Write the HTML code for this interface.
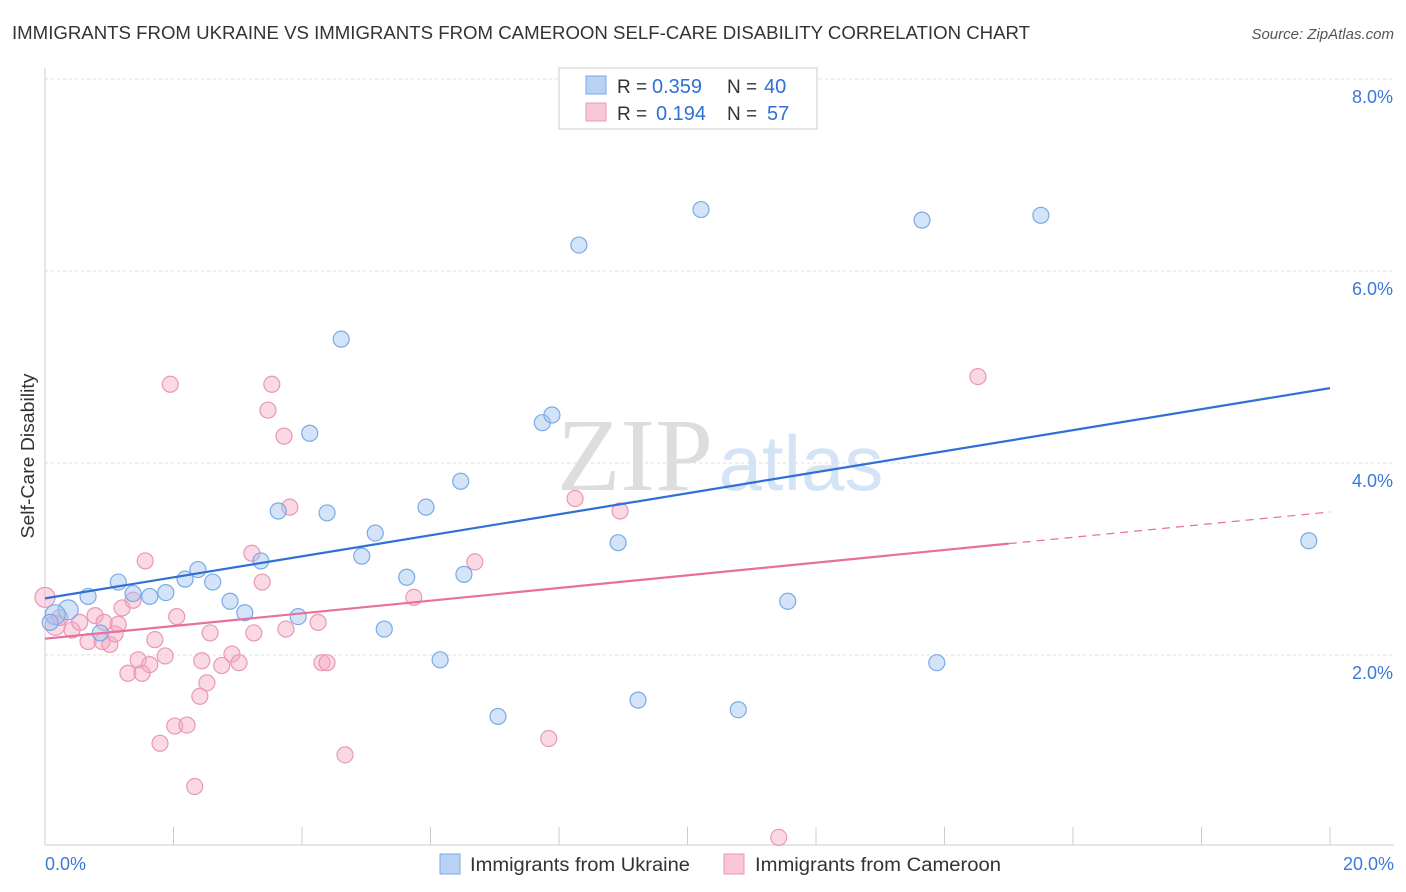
<!DOCTYPE html>
<html><head><meta charset="utf-8"><style>
body{margin:0;background:#fff;font-family:"Liberation Sans",sans-serif}
svg{display:block}
</style></head><body>
<svg id="c" width="1406" height="892">
<text x="12" y="39" font-size="18" fill="#333" textLength="1018" lengthAdjust="spacingAndGlyphs">IMMIGRANTS FROM UKRAINE VS IMMIGRANTS FROM CAMEROON SELF-CARE DISABILITY CORRELATION CHART</text>
<text x="1394" y="39" font-size="15" fill="#555" font-style="italic" text-anchor="end">Source: ZipAtlas.com</text>
<text x="635" y="490" font-size="104" fill="#ddd" font-family="Liberation Serif" text-anchor="middle">ZIP</text>
<text x="801" y="490" font-size="78" fill="#d4e3f5" text-anchor="middle">atlas</text>
<text transform="translate(34,456) rotate(-90)" font-size="18" fill="#333" text-anchor="middle" textLength="165" lengthAdjust="spacingAndGlyphs">Self-Care Disability</text>
<g id="grid"></g><g id="axes"></g><g id="pts"></g><g id="lines"></g>
<g>
<rect x="559" y="68" width="258" height="61" fill="#fff" stroke="#ccc"/>
<rect x="586" y="76" width="20" height="18" fill="#b8d2f4" stroke="#7aaae6"/>
<rect x="586" y="103" width="20" height="18" fill="#f8c6d6" stroke="#e898b4"/>
<text x="617" y="93" font-size="19" fill="#333">R =</text>
<text x="652" y="93" font-size="20" fill="#2f6fd6">0.359</text>
<text x="727" y="93" font-size="19" fill="#333">N =</text>
<text x="764" y="93" font-size="20" fill="#2f6fd6">40</text>
<text x="617" y="120" font-size="19" fill="#333">R =</text>
<text x="656" y="120" font-size="20" fill="#2f6fd6">0.194</text>
<text x="727" y="120" font-size="19" fill="#333">N =</text>
<text x="767" y="120" font-size="20" fill="#2f6fd6">57</text>
</g>
<g>
<rect x="440" y="854" width="20" height="20" fill="#b8d2f4" stroke="#7aaae6"/>
<text x="470" y="871" font-size="19" fill="#333" textLength="220" lengthAdjust="spacingAndGlyphs">Immigrants from Ukraine</text>
<rect x="724" y="854" width="20" height="20" fill="#f8c6d6" stroke="#e898b4"/>
<text x="755" y="871" font-size="19" fill="#333" textLength="246" lengthAdjust="spacingAndGlyphs">Immigrants from Cameroon</text>
</g>
</svg>
<script>
const yTicks=[2,4,6,8];
const xTickLabels=["0.0%","20.0%"];
const ukX=[0.36,0.16,0.08,0.67,0.86,1.14,1.37,1.63,1.88,2.18,2.38,2.61,2.88,3.11,3.36,3.63,3.94,4.12,4.39,4.61,4.93,5.14,5.28,5.63,5.93,6.15,6.47,6.52,7.05,7.74,7.89,8.31,8.92,9.23,10.21,10.79,11.56,13.65,13.88,15.50,19.67];
const ukY=[2.47,2.42,2.34,2.61,2.23,2.76,2.64,2.61,2.65,2.79,2.89,2.76,2.56,2.44,2.98,3.50,2.40,4.31,3.48,5.29,3.03,3.27,2.27,2.81,3.54,1.95,3.81,2.84,1.36,4.42,4.50,6.27,3.17,1.53,6.64,1.43,2.56,6.53,1.92,6.58,3.19];
const cmX=[0,0.16,0.23,0.42,0.54,0.67,0.78,0.89,0.92,1.01,1.09,1.14,1.20,1.29,1.37,1.45,1.51,1.56,1.63,1.71,1.79,1.87,1.95,2.02,2.05,2.21,2.33,2.41,2.44,2.52,2.57,2.75,2.91,3.02,3.22,3.25,3.38,3.47,3.53,3.72,3.75,3.81,4.25,4.31,4.39,4.67,5.74,6.69,7.84,8.25,8.95,11.42,14.52];
const cmY=[2.60,2.31,2.39,2.26,2.34,2.14,2.41,2.14,2.34,2.11,2.22,2.32,2.49,1.81,2.57,1.95,1.81,2.98,1.90,2.16,1.08,1.99,4.82,1.26,2.40,1.27,0.63,1.57,1.94,1.71,2.23,1.89,2.01,1.92,3.06,2.23,2.76,4.55,4.82,4.28,2.27,3.54,2.34,1.92,1.92,0.96,2.60,2.97,1.13,3.63,3.50,0.10,4.90];
const ukTrend=[2.59,4.78];
const cmTrend=[2.17,3.16,3.49];
const cmSolidEnd=15.0;
const X=v=>45+v*64.25, Y=v=>847-v*96;
const NS="http://www.w3.org/2000/svg";
function mk(t,p,a){const e=document.createElementNS(NS,t);for(const k in a)e.setAttribute(k,a[k]);p.appendChild(e);return e;}
const g=document.getElementById('grid'),ax=document.getElementById('axes'),pts=document.getElementById('pts'),ln=document.getElementById('lines');
yTicks.forEach(t=>{
 const l=mk('line',g,{x1:45,x2:1394,y1:Y(t),y2:Y(t),stroke:'#ddd','stroke-dasharray':'3,3'});
 
 
 const tx=mk('text',g,{x:1393,y:Y(t)+24,'font-size':18,fill:'#3b78d8','text-anchor':'end'});
 tx.textContent=t.toFixed(1)+'%';
 
 
});
const yl=mk('line',ax,{x1:45,x2:45,y1:68,y2:845,stroke:'#ccc'});


const xl=mk('line',ax,{x1:45,x2:1394,y1:845,y2:845,stroke:'#ccc'});


for(let i=0;i<=10;i++){const t=mk('line',ax,{x1:X(i*2),x2:X(i*2),y1:827,y2:845,stroke:'#ccc'});
 
 }
[[0,'start',45],[20,'end',1394]].forEach((d,i)=>{const t=mk('text',ax,{x:d[2],y:870,'font-size':18,fill:'#3b78d8','text-anchor':d[1]});t.textContent=xTickLabels[i];
 
 });
function dots(xs,ys,fill,stroke,name){xs.forEach((x,i)=>{const c=mk('circle',pts,{cx:X(x),cy:Y(ys[i]),r:i<2?10:8,fill:fill,stroke:stroke,'stroke-width':1.2});
 
 });}
dots(cmX,cmY,'rgba(245,170,195,0.45)','#e898b4','cameroon-point');
dots(ukX,ukY,'rgba(160,195,240,0.45)','#7aaae6','ukraine-point');
const bl=mk('line',ln,{x1:X(0),y1:Y(ukTrend[0]),x2:X(20),y2:Y(ukTrend[1]),stroke:'#2f6fd6','stroke-width':2.2});


const pl=mk('line',ln,{x1:X(0),y1:Y(cmTrend[0]),x2:X(cmSolidEnd),y2:Y(cmTrend[1]),stroke:'#e8709a','stroke-width':2.2});


const pd=mk('line',ln,{x1:X(cmSolidEnd),y1:Y(cmTrend[1]),x2:X(20),y2:Y(cmTrend[2]),stroke:'#e8709a','stroke-width':1.2,'stroke-dasharray':'8,6'});


</script>
</body></html>
